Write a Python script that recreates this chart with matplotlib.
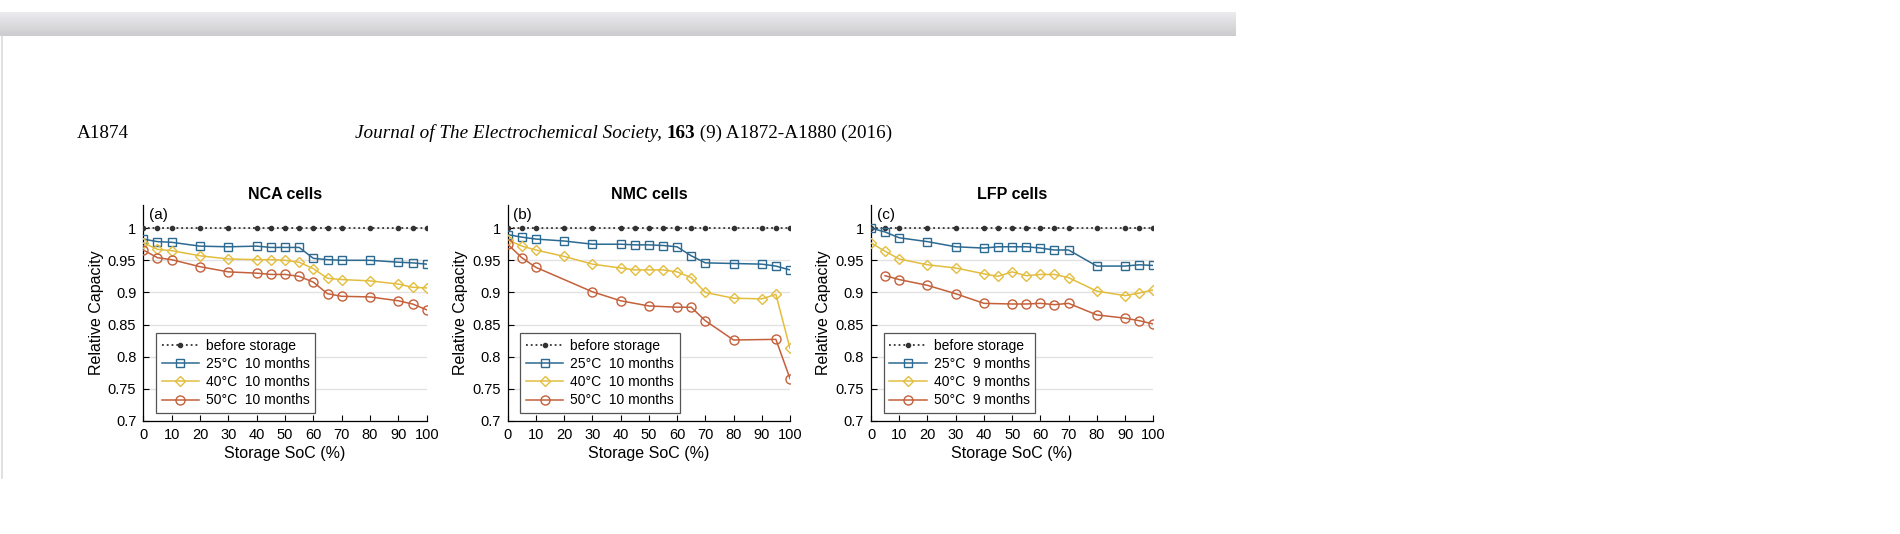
import numpy as np
import matplotlib
matplotlib.use("Agg")
import matplotlib.pyplot as plt
from matplotlib.lines import Line2D

plt.rcParams['font.family'] = ['Liberation Sans', 'DejaVu Sans']

# 数据
soc = [0, 5, 10, 20, 30, 40, 45, 50, 55, 60, 65, 70, 80, 90, 95, 100]
before = [1.0] * len(soc)

nca_25 = [0.983, 0.979, 0.978, 0.972, 0.971, 0.972, 0.970, 0.970, 0.970, 0.953, 0.951, 0.950, 0.950, 0.947, 0.946, 0.944]
nca_40 = [0.977, 0.967, 0.965, 0.957, 0.952, 0.951, 0.951, 0.950, 0.947, 0.937, 0.922, 0.920, 0.918, 0.913, 0.908, 0.907]
nca_50 = [0.966, 0.954, 0.951, 0.940, 0.932, 0.930, 0.928, 0.928, 0.925, 0.916, 0.898, 0.894, 0.893, 0.887, 0.882, 0.873]

nmc_25 = [0.990, 0.986, 0.983, 0.980, 0.975, 0.975, 0.974, 0.974, 0.973, 0.971, 0.957, 0.946, 0.945, 0.944, 0.941, 0.935]
nmc_40 = [0.982, 0.972, 0.966, 0.956, 0.944, 0.938, 0.935, 0.935, 0.935, 0.932, 0.923, 0.900, 0.891, 0.890, 0.897, 0.813]
nmc_50_soc = [0, 5, 10, 30, 40, 50, 60, 65, 70, 80, 95, 100]
nmc_50 = [0.975, 0.954, 0.939, 0.901, 0.887, 0.879, 0.877, 0.877, 0.856, 0.826, 0.827, 0.766]

lfp_25 = [1.000, 0.994, 0.985, 0.979, 0.971, 0.969, 0.971, 0.971, 0.971, 0.969, 0.966, 0.966, 0.941, 0.941, 0.943, 0.942]
lfp_40 = [0.977, 0.964, 0.952, 0.943, 0.938, 0.929, 0.925, 0.932, 0.926, 0.928, 0.928, 0.923, 0.902, 0.895, 0.899, 0.904]
lfp_50_soc = [5, 10, 20, 30, 40, 50, 55, 60, 65, 70, 80, 90, 95, 100]
lfp_50 = [0.926, 0.920, 0.911, 0.898, 0.883, 0.882, 0.882, 0.883, 0.881, 0.883, 0.865, 0.860, 0.856, 0.851]

titles = ["NCA cells", "NMC cells", "LFP cells"]
tags = ["(a)", "(b)", "(c)"]
months = ["10 months", "10 months", "9 months"]
yticks = [0.7, 0.75, 0.8, 0.85, 0.9, 0.95, 1]
ytick_labels = ["0.7", "0.75", "0.8", "0.85", "0.9", "0.95", "1"]

C_BLUE = "#2c6a92"
C_YEL = "#e3bd3e"
C_RED = "#c4603a"

W, H = 1900, 534
fig = plt.figure(figsize=(W / 100, H / 100), dpi=100)


# 页面装饰：顶部灰条、左边线、页眉
def draw_page():
    bar = fig.add_axes([0, 1 - 36 / H, 1236 / W, 24 / H])
    grad = np.linspace(0.925, 0.80, 50).reshape(-1, 1)
    bar.imshow(np.dstack([grad, grad, (grad + 0.012).clip(0, 1)]), aspect='auto')
    bar.axis('off')
    fig.add_artist(Line2D([1.5 / W, 1.5 / W], [1 - 36 / H, 1 - 478 / H], color="#dadada", lw=1.2))
    fs = 13.8
    fig.text(77 / W, 1 - 138 / H, "A1874", family="Liberation Serif", fontsize=fs, va="baseline")
    t2 = fig.text(355 / W, 1 - 138 / H, "Journal of The Electrochemical Society, ",
                  family="Liberation Serif", style="italic", fontsize=fs, va="baseline")
    # 后面两段接在前一段文字右边
    ann = plt.annotate("163", xy=(1, 0), xycoords=t2, family="Liberation Serif", weight="bold",
                       fontsize=fs, va="bottom", ha="left", annotation_clip=False)
    plt.annotate(" (9) A1872-A1880 (2016)", xy=(1, 0), xycoords=ann, family="Liberation Serif",
                 fontsize=fs, va="bottom", ha="left", annotation_clip=False)


# 画一个子图
def draw_panel(left, width, k, s25, y25, s40, y40, s50, y50):
    ax = fig.add_axes([left / W, 1 - 421 / H, width / W, 216 / H])
    ax.plot(soc, before, ':', color="#333333", marker='.', markersize=6, lw=1.3,
            label="before storage", zorder=3)
    ax.plot(s25, y25, '-', color=C_BLUE, marker='s', markersize=5.5, mfc='none', lw=1.1,
            label="25°C  " + months[k], zorder=4)
    ax.plot(s40, y40, '-', color=C_YEL, marker='D', markersize=5.5, mfc='none', lw=1.1,
            label="40°C  " + months[k], zorder=4)
    ax.plot(s50, y50, '-', color=C_RED, marker='o', markersize=6.5, mfc='none', lw=1.1,
            label="50°C  " + months[k], zorder=4)
    ax.set_xlim(0, 100)
    ax.set_ylim(0.7, 1.036)
    ax.set_xticks(range(0, 101, 10))
    ax.set_yticks(yticks)
    ax.set_yticklabels(ytick_labels)
    ax.tick_params(direction='in', length=4, width=0.8, labelsize=10.5, pad=5)
    ax.grid(axis='y', color="#e2e2e2", lw=1)
    ax.set_axisbelow(True)
    for sp in ["top", "right"]:
        ax.spines[sp].set_visible(False)
    for sp in ["left", "bottom"]:
        ax.spines[sp].set_linewidth(0.9)
    ax.set_title(titles[k], fontsize=11.5, fontweight='bold', pad=4)
    ax.text(0.02, 0.955, tags[k], transform=ax.transAxes, fontsize=11, va='center', ha='left')
    ax.set_xlabel("Storage SoC (%)", fontsize=11.5, labelpad=3)
    ax.set_ylabel("Relative Capacity", fontsize=11.5, labelpad=3)
    leg = ax.legend(loc='lower left', bbox_to_anchor=(0.045, 0.037), borderaxespad=0,
                    fontsize=10, fancybox=False, framealpha=1, edgecolor="#555555",
                    handlelength=2.7, labelspacing=0.3, handletextpad=0.5, borderpad=0.4)
    leg.get_frame().set_linewidth(0.9)
    return ax


draw_page()
draw_panel(143.3, 283.4, 0, soc, nca_25, soc, nca_40, soc, nca_50)
draw_panel(507.7, 282.3, 1, soc, nmc_25, soc, nmc_40, nmc_50_soc, nmc_50)
draw_panel(871.0, 282.3, 2, soc, lfp_25, soc, lfp_40, lfp_50_soc, lfp_50)

fig.savefig("out.png", dpi=100)
